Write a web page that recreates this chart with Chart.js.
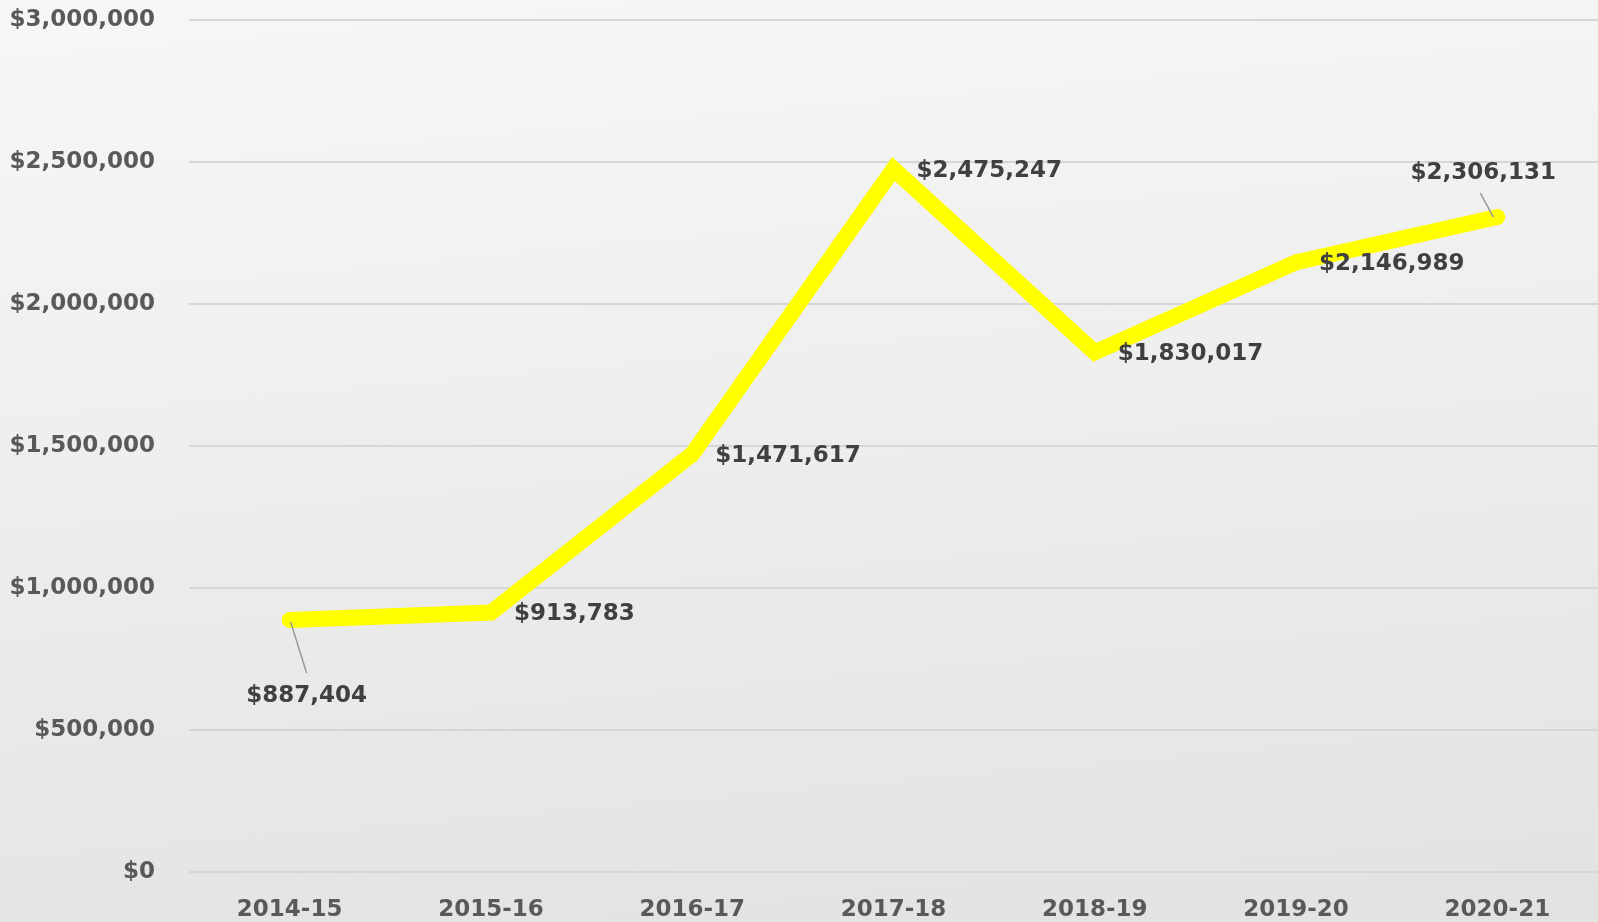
<!DOCTYPE html>
<html>
<head>
<meta charset="utf-8">
<script src="https://cdn.jsdelivr.net/npm/chart.js@4.4.1/dist/chart.umd.min.js"></script>
<style>
    html, body { margin: 0; padding: 0; }
    body {
        width: 1598px;
        height: 922px;
        overflow: hidden;
        background: linear-gradient(175deg, #f7f7f7 0%, #eeeeee 45%, #e2e2e2 100%);
    }
    #wrap { position: relative; width: 1598px; height: 922px; }
</style>
</head>
<body>
<div id="wrap"><canvas id="fundingChart"></canvas></div>
<script>
// Yearly totals, one point per fiscal year.
const YEARS = ["2014-15", "2015-16", "2016-17", "2017-18", "2018-19", "2019-20", "2020-21"];
const TOTALS = [887404, 913783, 1471617, 2475247, 1830017, 2146989, 2306131];
const Y_TICKS = [0, 500000, 1000000, 1500000, 2000000, 2500000, 3000000];

const FONT_FAMILY = "'DejaVu Sans', 'Liberation Sans', Arial, sans-serif";
const TICK_COLOR = "#595959";
const LABEL_COLOR = "#404040";
const GRID_COLOR = "#d6d6d6";

function money(v) {
    return "$" + v.toLocaleString("en-US");
}

// Value labels: first sits below with a leader, last sits above with a leader, the rest to the right.
const valueLabelsPlugin = {
    id: "valueLabels",
    afterDatasetsDraw(chart) {
        const { ctx } = chart;
        const meta = chart.getDatasetMeta(0);
        const last = meta.data.length - 1;
        ctx.save();
        ctx.font = `bold 23px ${FONT_FAMILY}`;
        ctx.textBaseline = "middle";
        meta.data.forEach((pt, i) => {
            const text = money(TOTALS[i]);
            ctx.fillStyle = LABEL_COLOR;
            if (i === 0 || i === last) {
                const below = i === 0;
                ctx.strokeStyle = "#9a9a9a";
                ctx.lineWidth = 1.5;
                ctx.beginPath();
                ctx.moveTo(pt.x + (below ? 1 : -4), pt.y + (below ? 2 : 0));
                ctx.lineTo(pt.x + (below ? 17 : -17), pt.y + (below ? 53 : -24));
                ctx.stroke();
                ctx.textAlign = "center";
                ctx.fillText(text, pt.x + (below ? 17 : -14), pt.y + (below ? 76 : -44));
            } else {
                ctx.textAlign = "left";
                ctx.fillText(text, pt.x + 23, pt.y + 2);
            }
        });
        ctx.restore();
    },
};

const canvas = document.getElementById("fundingChart");
canvas.width = 1598;
canvas.height = 922;

new Chart(canvas.getContext("2d"), {
    type: "line",
    data: {
        labels: YEARS,
        datasets: [{
            data: TOTALS,
            borderColor: "#ffff00",
            borderWidth: 16,
            borderCapStyle: "round",
            borderJoinStyle: "miter",
            pointRadius: 0,
            tension: 0,
            fill: false,
        }],
    },
    options: {
        responsive: false,
        animation: false,
        devicePixelRatio: 1,
        layout: { padding: { top: 20, right: 0, left: 0, bottom: 0 } },
        scales: {
            x: {
                offset: true,
                grid: { display: false, drawTicks: false },
                border: { display: false },
                ticks: {
                    padding: 24,
                    color: TICK_COLOR,
                    font: { family: FONT_FAMILY, size: 23, weight: "bold" },
                },
                afterFit(scale) {
                    scale.height = 50;
                    scale.paddingLeft = 0;
                    scale.paddingRight = 0;
                },
            },
            y: {
                min: 0,
                max: 3000000,
                afterBuildTicks(scale) { scale.ticks = Y_TICKS.map((v) => ({ value: v })); },
                grid: { color: GRID_COLOR, lineWidth: 2, drawTicks: false },
                border: { display: false },
                ticks: {
                    padding: 34,
                    color: TICK_COLOR,
                    font: { family: FONT_FAMILY, size: 23, weight: "bold" },
                    callback: (v) => money(v),
                },
                afterFit(scale) {
                    scale.width = 189;
                    scale.paddingTop = 0;
                    scale.paddingBottom = 0;
                },
            },
        },
        plugins: {
            legend: { display: false },
            tooltip: { enabled: false },
        },
    },
    plugins: [valueLabelsPlugin],
});
</script>
</body>
</html>
